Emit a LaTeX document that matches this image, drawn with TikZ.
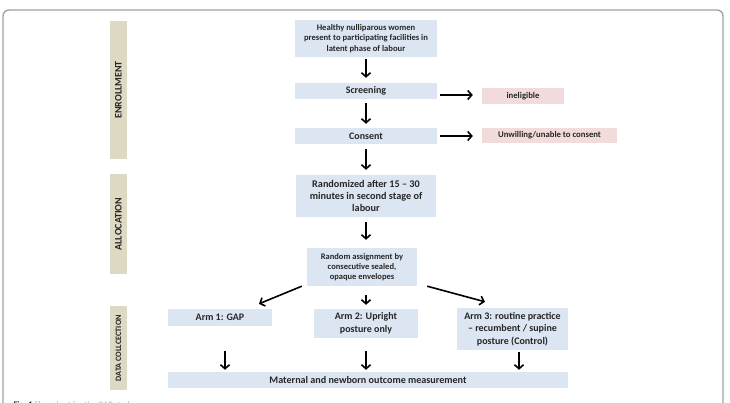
\documentclass[tikz,border=0pt]{standalone}
\usepackage{fontspec}
\setmainfont{Carlito}
\usetikzlibrary{arrows.meta,calc}
\definecolor{boxblue}{HTML}{DCE6F2}
\definecolor{boxpink}{HTML}{F2DCDB}
\definecolor{bartan}{HTML}{DDD9C3}
\definecolor{txt}{HTML}{262626}
\tikzset{
  bx/.style={fill=boxblue, draw=none, inner sep=0pt, align=center, text=txt, font=\bfseries},
  pk/.style={fill=boxpink, draw=none, inner sep=0pt, align=center, text=txt, font=\bfseries\fontsize{8.7}{10}\selectfont},
  bar/.style={fill=bartan, draw=none, inner sep=0pt, text=txt, rotate=90, font=\bfseries\fontsize{10}{11}\selectfont},
  arr/.style={line width=1.6pt, -{Straight Barb[length=4pt,width=9pt]}},
}
\begin{document}
\begin{tikzpicture}[x=1pt,y=-1pt]
\useasboundingbox (0,0) rectangle (730,403);
\begin{scope}
\clip (0,0) rectangle (730,403);
\draw[gray!75, line width=1.3pt, rounded corners=6pt] (3,10) rectangle (723,430);
\node[anchor=base west, font=\fontsize{8.5}{10}\selectfont, text=gray!60] (cap) at (10,407.5) {\textbf{\color{txt}Fig. 1} Flow chart for the GAP study};
\end{scope}
% side bars
\node[bar, minimum width=138pt, minimum height=17pt] (enr) at (118.5,90) {ENROLLMENT};
\node[bar, minimum width=100pt, minimum height=17pt] (alc) at (118.5,224) {ALLOCATION};
\node[bar, minimum width=84pt, minimum height=17pt, font=\bfseries\fontsize{8.2}{9}\selectfont] (dc) at (118.5,348) {DATA COLLCECTION};
% main boxes
\node[bx, minimum width=142pt, minimum height=37pt, font=\bfseries\fontsize{8.6}{10.5}\selectfont] (hw) at (366,38.5) {Healthy nulliparous women\\present to participating facilities in\\latent phase of labour};
\node[bx, minimum width=142pt, minimum height=16pt, font=\bfseries\fontsize{10}{11}\selectfont] (scr) at (366,91) {Screening};
\node[bx, minimum width=142pt, minimum height=16pt, font=\bfseries\fontsize{10}{11}\selectfont] (con) at (366,136) {Consent};
\node[bx, minimum width=140pt, minimum height=42pt, font=\bfseries\fontsize{10.2}{12}\selectfont] (rnd) at (366,196) {Randomized after 15 -- 30\\minutes in second stage of\\labour};
\node[bx, minimum width=110pt, minimum height=38pt, font=\bfseries\fontsize{8.5}{10.3}\selectfont] (ra) at (362,267) {Random assignment by\\consecutive sealed,\\opaque envelopes};
\node[bx, minimum width=104pt, minimum height=17pt, font=\bfseries\fontsize{10}{12.5}\selectfont] (a1) at (220,317.5) {Arm 1: GAP};
\node[bx, minimum width=104pt, minimum height=29pt, font=\bfseries\fontsize{10}{12.5}\selectfont] (a2) at (366,323.5) {Arm 2: Upright\\posture only};
\node[bx, minimum width=111pt, minimum height=42pt, font=\bfseries\fontsize{10}{12.5}\selectfont] (a3) at (512.5,329) {Arm 3: routine practice\\-- recumbent / supine\\posture (Control)};
\node[bx, minimum width=400pt, minimum height=16pt, font=\bfseries\fontsize{10.1}{11}\selectfont] (mat) at (368,380) {Maternal and newborn outcome measurement};
\node[pk, minimum width=82pt, minimum height=16pt] (inel) at (523,96) {ineligible};
\node[pk, minimum width=135pt, minimum height=15pt] (unw) at (549.5,135.5) {Unwilling/unable to consent};
% arrows
\draw[arr, shorten <=2pt, shorten >=5pt] (hw.south) -- (scr.north);
\draw[arr, shorten <=4pt, shorten >=4pt] (scr.south) -- (con.north);
\draw[arr, shorten <=5pt, shorten >=5pt] (con.south) -- (rnd.north);
\draw[arr, shorten <=3pt, shorten >=9pt] ([yshift=-4pt]scr.east) -- ([yshift=-4pt]scr.east -| inel.west);
\draw[arr, shorten <=3pt, shorten >=9pt] (con.east) -- (con.east -| unw.west);
\draw[arr, shorten <=5pt, shorten >=8pt] (rnd.south) -- (rnd.south |- ra.north);
\draw[arr] ([xshift=-5pt]ra.south west) -- ([xshift=39pt,yshift=5pt]a1.north);
\draw[arr, shorten <=9pt, shorten >=4pt] (ra.south -| rnd.south) -- (a2.north);
\draw[arr] ([xshift=10pt]ra.south east) -- ([xshift=-27.5pt,yshift=6pt]a3.north);
\draw[arr, shorten >=2pt] ([xshift=5pt,yshift=-25pt]a1.south) -- ([xshift=5pt]a1.south |- mat.north);
\draw[arr, shorten <=13pt, shorten >=2pt] (a2.south) -- (a2.south |- mat.north);
\draw[arr, shorten <=2pt, shorten >=2pt] ([xshift=6.5pt]a3.south) -- ([xshift=6.5pt]a3.south |- mat.north);
\end{tikzpicture}
\end{document}
